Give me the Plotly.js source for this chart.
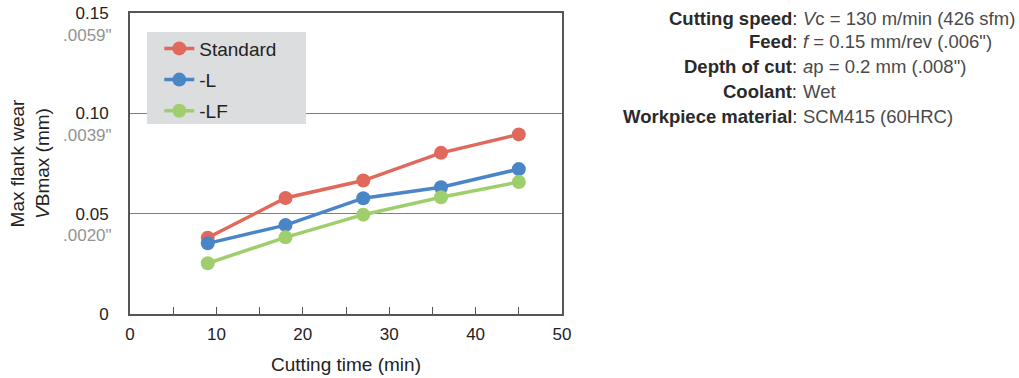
<!DOCTYPE html>
<html>
<head>
<meta charset="utf-8">
<script src="https://cdn.plot.ly/plotly-3.0.1.min.js"></script>
<style>html,body{margin:0;padding:0;background:#fff;}#chart{width:1019px;height:378px;}</style>
</head>
<body>
<div id="chart"></div>
<script>
const cuttingTime = [9, 18, 27, 36, 45];
const standardWear = [0.038, 0.0578, 0.0665, 0.0803, 0.0895];
const lWear = [0.0352, 0.0443, 0.0577, 0.0632, 0.0722];
const lfWear = [0.0253, 0.0382, 0.0495, 0.0582, 0.0658];
const seriesNames = ['Standard', '-L', '-LF'];
const yTickVals = [0, 0.05, 0.10, 0.15];
const yTickText = ['0', '0.05', '0.10', '0.15'];
const inchVals = [0.05, 0.10, 0.15];
const inchText = ['.0020"', '.0039"', '.0059"'];
const condLabels = ['Cutting speed', 'Feed', 'Depth of cut', 'Coolant', 'Workpiece material'];
const condValues = ['<i>V</i>c = 130 m/min (426 sfm)', '<i>f</i> = 0.15 mm/rev (.006")', '<i>a</i>p = 0.2 mm (.008")', 'Wet', 'SCM415 (60HRC)'];

const colors = ['#e0695c', '#4a85c8', '#9fcf6c'];
const seriesData = [standardWear, lWear, lfWear];
const FONT = 'Liberation Sans, Arial, Helvetica, sans-serif';

const traces = seriesData.map((ys, i) => ({
  x: cuttingTime, y: ys, name: seriesNames[i], type: 'scatter', mode: 'lines+markers',
  legendgroup: 'g' + i,
  line: {color: colors[i], width: 3.5},
  marker: {color: colors[i], size: 14}
}));

const L = 130, W = 432, T = 13, H = 301;
const yPx = [18, 42, 66, 91, 116];
const annotations = [];
inchVals.forEach((v, i) => annotations.push({
  xref: 'paper', yref: 'y', x: 0, y: v, xanchor: 'right', yanchor: 'middle',
  xshift: -16, yshift: -22, showarrow: false, text: inchText[i],
  font: {family: FONT, size: 17, color: '#939393'}
}));
condLabels.forEach((lab, i) => {
  const yp = (T + H - yPx[i]) / H;
  annotations.push({
    xref: 'paper', yref: 'paper', x: (799 - L) / W, y: yp, xanchor: 'right', yanchor: 'middle',
    showarrow: false, text: '<b>' + lab + '</b>:', font: {family: FONT, size: 18.5, color: '#2a2a2a'}
  });
  annotations.push({
    xref: 'paper', yref: 'paper', x: (801 - L) / W, y: yp, xanchor: 'left', yanchor: 'middle',
    showarrow: false, text: condValues[i], font: {family: FONT, size: 18.5, color: '#4a4a4a'}
  });
});

// legend background panel (paper coords)
const shapes = [{
  type: 'rect', xref: 'paper', yref: 'paper', layer: 'above',
  x0: (147 - L) / W, x1: (306 - L) / W, y0: (T + H - 124) / H, y1: (T + H - 32) / H,
  fillcolor: '#dcdddf', line: {width: 0}
}];

const layout = {
  width: 1019, height: 378,
  margin: {l: L, r: 1019 - L - W, t: T, b: 378 - T - H},
  paper_bgcolor: '#fff', plot_bgcolor: '#fff',
  font: {family: FONT, size: 17, color: '#222'},
  showlegend: true,
  legend: {
    x: 0.04, y: 0.945, xanchor: 'left', yanchor: 'top',
    bgcolor: 'rgba(0,0,0,0)', borderwidth: 0,
    font: {family: FONT, size: 19, color: '#222'},
    traceorder: 'grouped', tracegroupgap: 3.5, indentation: 12
  },
  xaxis: {
    range: [0, 50], dtick: 10, tick0: 0,
    showline: true, mirror: true, linecolor: '#555', linewidth: 2,
    showgrid: false, zeroline: false,
    ticks: 'inside', ticklen: 7, tickcolor: '#555', tickwidth: 1,
    minor: {dtick: 5, ticks: 'inside', ticklen: 7, tickcolor: '#555', showgrid: false},
    tickfont: {family: FONT, size: 17, color: '#222'},
    ticklabelstandoff: 4,
    title: {text: 'Cutting time (min)', font: {family: FONT, size: 19, color: '#222'}, standoff: 14}
  },
  yaxis: {
    range: [0, 0.15], tickvals: yTickVals, ticktext: yTickText,
    showline: true, mirror: true, linecolor: '#555', linewidth: 2,
    showgrid: true, gridcolor: '#808080', gridwidth: 1.3, zeroline: false,
    ticks: '', tickfont: {family: FONT, size: 17, color: '#222'},
    ticklabelstandoff: 16,
    title: {text: 'Max flank wear<br><i>V</i>Bmax (mm)', font: {family: FONT, size: 19, color: '#222'}, standoff: 21}
  },
  shapes: shapes,
  annotations: annotations
};

Plotly.newPlot('chart', traces, layout, {displayModeBar: false, staticPlot: true});
</script>
</body>
</html>
